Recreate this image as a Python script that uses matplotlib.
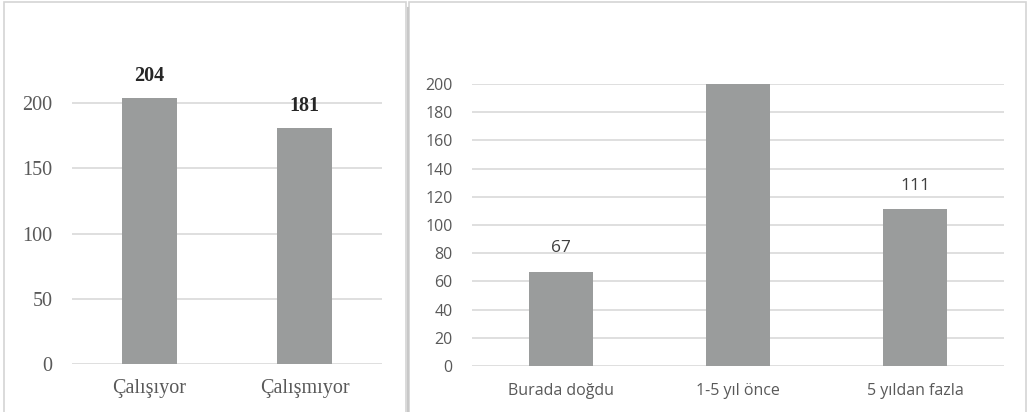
import matplotlib.pyplot as plt
from matplotlib.patches import Rectangle

# left chart: working status
work_labels = ['Çalışıyor', 'Çalışmıyor']
work_counts = [204, 181]

# right chart: how long in the place
stay_labels = ['Burada doğdu', '1-5 yıl önce', '5 yıldan fazla']
stay_counts = [67, 200, 111]
stay_shown = [67, None, 111]

bar_color = '#9a9c9c'
grid_color = '#d9d9d9'
text_color = '#595959'

W, H = 1028, 412
fig = plt.figure(figsize=(W / 100, H / 100), dpi=100)

# panel frames
fig.patches.append(Rectangle((4 / W, -0.1), 402 / W, 1.1 - 2 / H, transform=fig.transFigure,
                             fill=False, edgecolor='#d4d4d4', lw=1.2))
fig.patches.append(Rectangle((409 / W, -0.1), 617 / W, 1.1 - 2 / H, transform=fig.transFigure,
                             fill=False, edgecolor='#d4d4d4', lw=1.2))
fig.add_artist(plt.Line2D([407.5 / W, 407.5 / W], [0, 1 - 8 / H], transform=fig.transFigure,
                          color='#c8c8c8', lw=1.5))


def style(ax):
    for s in ax.spines.values():
        s.set_visible(False)
    ax.set_axisbelow(True)
    ax.yaxis.grid(True, color=grid_color, lw=1.2)
    ax.tick_params(length=0, colors=text_color)


# left
ax1 = fig.add_axes([72 / W, 48 / H, 310 / W, 326 / H])
ax1.bar(range(len(work_labels)), work_counts, width=0.36, color=bar_color)
ax1.set_xlim(-0.5, len(work_labels) - 0.5)
ax1.set_ylim(0, 250)
ax1.set_yticks([0, 50, 100, 150, 200])
ax1.set_xticks(range(len(work_labels)))
ax1.set_xticklabels(work_labels)
style(ax1)
for lab in ax1.get_xticklabels() + ax1.get_yticklabels():
    lab.set_fontfamily('Liberation Serif')
    lab.set_fontsize(14.5)
ax1.tick_params(axis='y', pad=14)
ax1.tick_params(axis='x', pad=11)
for i, v in enumerate(work_counts):
    ax1.annotate(str(v), (i, v), xytext=(0, 16), textcoords='offset points',
                 ha='center', va='center', fontsize=14.5, fontweight='bold',
                 family='Liberation Serif', color='#262626')

# right
ax2 = fig.add_axes([472 / W, 46 / H, 532 / W, 282 / H])
ax2.bar(range(len(stay_labels)), stay_counts, width=0.36, color=bar_color)
ax2.set_xlim(-0.5, len(stay_labels) - 0.5)
ax2.set_ylim(0, 200)
ax2.set_yticks(range(0, 201, 20))
ax2.set_xticks(range(len(stay_labels)))
ax2.set_xticklabels(stay_labels)
style(ax2)
for lab in ax2.get_xticklabels() + ax2.get_yticklabels():
    lab.set_fontfamily('Open Sans')
    lab.set_fontsize(11.5)
ax2.tick_params(axis='y', pad=14)
ax2.tick_params(axis='x', pad=12)
for i, v in enumerate(stay_shown):
    if v is None:
        continue
    ax2.annotate(str(v), (i, v), xytext=(0, 17), textcoords='offset points',
                 ha='center', va='center', fontsize=12.5, family='Open Sans',
                 color='#404040')

fig.savefig('out.png', dpi=100)
